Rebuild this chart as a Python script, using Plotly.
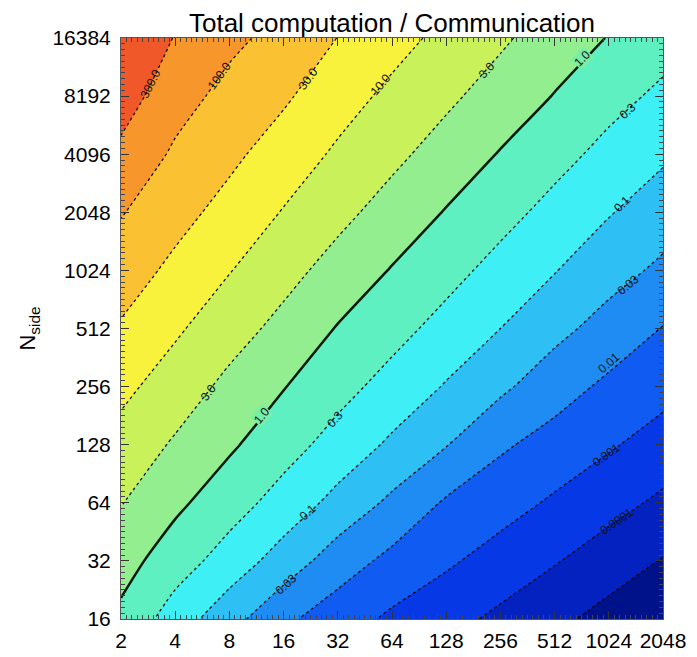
import numpy as np
import plotly.graph_objects as go

# ---------------- data ----------------
x_ticks = [2, 4, 8, 16, 32, 64, 128, 256, 512, 1024, 2048]
y_ticks = [16, 32, 64, 128, 256, 512, 1024, 2048, 4096, 8192, 16384]

# log10(total computation / communication); rows: N_side = 16 ... 16384, cols: x = 2 ... 2048
log_ratio = [
    [-0.12, -0.75, -1.33, -1.90, -2.54, -3.18, -3.67, -4.21, -4.77, -5.34, -5.90],
    [0.19, -0.28, -0.73, -1.23, -1.76, -2.27, -2.85, -3.40, -3.93, -4.49, -5.06],
    [0.50, 0.10, -0.30, -0.71, -1.16, -1.62, -2.12, -2.61, -3.14, -3.66, -4.19],
    [0.81, 0.42, 0.07, -0.32, -0.70, -1.09, -1.50, -1.93, -2.38, -2.89, -3.41],
    [1.12, 0.75, 0.36, 0.02, -0.35, -0.69, -1.04, -1.42, -1.80, -2.20, -2.68],
    [1.43, 1.07, 0.69, 0.34, -0.03, -0.35, -0.68, -1.00, -1.37, -1.71, -2.04],
    [1.73, 1.37, 1.02, 0.65, 0.30, -0.03, -0.35, -0.68, -0.98, -1.32, -1.62],
    [2.03, 1.65, 1.32, 0.97, 0.62, 0.29, -0.03, -0.35, -0.67, -0.97, -1.26],
    [2.37, 1.92, 1.59, 1.26, 0.92, 0.60, 0.28, -0.03, -0.35, -0.66, -0.93],
    [2.70, 2.19, 1.84, 1.55, 1.20, 0.88, 0.58, 0.27, -0.02, -0.35, -0.62],
    [3.01, 2.45, 2.11, 1.83, 1.47, 1.17, 0.86, 0.56, 0.24, -0.02, -0.31],
]

levels = [1e-5, 1e-4, 1e-3, 0.01, 0.03, 0.1, 0.3, 1.0, 3.0, 10.0, 30.0, 100.0, 300.0]
level_labels = ["", "0.0001", "0.001", "0.01", "0.03", "0.1", "0.3", "1.0", "3.0", "10.0", "30.0", "100.0", "300.0"]

band_colors = ["#00128A", "#0322C0", "#0638E6", "#105CF2", "#1E8CF2", "#2EC0F5", "#3EEFF5",
               "#5EF0C0", "#92EE8E", "#C8F15A", "#F9F23C", "#FAC232", "#F7962A", "#F0582A"]

# label placement guides: (level text, 'row' -> along N_side exponent / 'col' -> along x exponent, guide value)
label_guides = [
    ("300.0", "row", 13.2), ("100.0", "row", 13.35), ("30.0", "row", 13.3), ("10.0", "row", 13.2),
    ("3.0", "row", 13.45), ("1.0", "row", 13.65),
    ("0.3", "col", 10.35), ("0.1", "col", 10.25), ("0.03", "col", 10.35), ("0.01", "col", 10.0),
    ("0.001", "col", 9.95), ("0.0001", "col", 10.15),
    ("3.0", "row", 7.9), ("1.0", "row", 7.5), ("0.3", "row", 7.45),
    ("0.1", "col", 4.45), ("0.03", "col", 4.05),
]

# ---------------- layout geometry ----------------
# the page body adds an 8 px offset, so the figure is 8 px smaller than the window
OFF = 8
W, H = 697 - OFF, 657 - OFF
ML, MR, MT, MB = 121 - OFF, 34, 38 - OFF, 38
FONT = "Liberation Sans, Arial, Helvetica, sans-serif"

xe = np.log2(x_ticks)
ye = np.log2(y_ticks)
A = np.array(log_ratio, float)
lv = np.log10(levels)


def to_index(L):
    L = np.asarray(L, float)
    idx = np.interp(L, lv, np.arange(len(lv)))
    lo = L < lv[0]
    hi = L > lv[-1]
    idx[lo] = (L[lo] - lv[0]) / (lv[1] - lv[0])
    idx[hi] = len(lv) - 1 + (L[hi] - lv[-1]) / (lv[-1] - lv[-2])
    return idx


Z = to_index(A)
nlev = len(levels)
one_idx = level_labels.index("1.0")

# colorscale: band k (k=0 below first level ... k=nlev above last) at position k/nlev
colorscale = [[k / nlev, c] for k, c in enumerate(band_colors)]


def bilin(u, v):
    u = np.atleast_1d(np.asarray(u, float))
    v = np.atleast_1d(np.asarray(v, float))
    fu = (u - xe[0]) / (xe[1] - xe[0])
    fv = (v - ye[0]) / (ye[1] - ye[0])
    i = np.clip(np.floor(fu).astype(int), 0, len(xe) - 2)
    j = np.clip(np.floor(fv).astype(int), 0, len(ye) - 2)
    tu = fu - i
    tv = fv - j
    return (A[j, i] * (1 - tu) * (1 - tv) + A[j, i + 1] * tu * (1 - tv)
            + A[j + 1, i] * (1 - tu) * tv + A[j + 1, i + 1] * tu * tv)


def mix(c1, c2):
    a = [int(c1[k:k + 2], 16) for k in (1, 3, 5)]
    b = [int(c2[k:k + 2], 16) for k in (1, 3, 5)]
    return "#" + "".join(f"{(p + q) // 2:02X}" for p, q in zip(a, b))


sx = (W - ML - MR) / (xe[-1] - xe[0])
sy = (H - MT - MB) / (ye[-1] - ye[0])

annotations = []
for text, kind, g in label_guides:
    k = level_labels.index(text)
    L0 = lv[k]
    if kind == "row":
        us = np.linspace(xe[0], xe[-1], 2001)
        prof = bilin(us, np.full_like(us, g))
        if not (prof.min() <= L0 <= prof.max()):
            continue
        u0 = float(np.interp(L0, prof[::-1], us[::-1]))
        v0 = g
    else:
        vs = np.linspace(ye[0], ye[-1], 2001)
        prof = bilin(np.full_like(vs, g), vs)
        if not (prof.min() <= L0 <= prof.max()):
            continue
        v0 = float(np.interp(L0, prof, vs))
        u0 = g
    e = 1e-3
    dLdu = (bilin(u0 + e, v0) - bilin(u0 - e, v0))[0] / (2 * e)
    dLdv = (bilin(u0, v0 + e) - bilin(u0, v0 - e))[0] / (2 * e)
    dx = dLdv * sx
    dy = dLdu * sy  # screen y (down) of tangent (dLdv, -dLdu)
    ang = np.degrees(np.arctan2(dy, dx))
    if ang > 90:
        ang -= 180
    if ang < -90:
        ang += 180
    ann = dict(x=u0, y=v0, xref="x", yref="y", text=text, showarrow=False,
               textangle=float(ang), font=dict(family=FONT, size=12, color="#111"))
    if k == one_idx:
        # the solid line is broken under its label
        ann.update(bgcolor=mix(band_colors[k], band_colors[k + 1]), borderpad=0)
    annotations.append(ann)

fig = go.Figure()
fig.add_trace(go.Contour(
    x=xe, y=ye, z=Z, autocontour=False,
    contours=dict(start=0, end=nlev - 1, size=1, coloring="fill", showlines=True),
    colorscale=colorscale, showscale=False,
    line=dict(color="black", width=1.2, dash="dot", smoothing=0.6),
    hoverinfo="skip",
))
fig.add_trace(go.Contour(
    x=xe, y=ye, z=Z, autocontour=False,
    contours=dict(start=one_idx, end=one_idx, size=1, coloring="none", showlines=True),
    showscale=False,
    line=dict(color="#0a1a0a", width=2.5, smoothing=0.6),
    hoverinfo="skip",
))

axis_common = dict(showgrid=False, zeroline=False, showline=True, mirror="allticks", automargin=False,
                   linecolor="#555", linewidth=1, ticks="inside", ticklen=8, tickcolor="#333",
                   minor=dict(ticks="inside", ticklen=4, dtick=0.1, tickcolor="#444", showgrid=False),
                   tickfont=dict(family=FONT, size=21, color="black"))

fig.update_xaxes(range=[xe[0], xe[-1]], tickmode="array", tickvals=xe,
                 ticktext=[str(t) for t in x_ticks], ticklabelstandoff=3, **axis_common)
fig.update_yaxes(range=[ye[0], ye[-1]], tickmode="array", tickvals=ye,
                 ticktext=[str(t) for t in y_ticks], ticklabelstandoff=5,
                 title=dict(text="N<sub>side</sub>", font=dict(family=FONT, size=22, color="black"),
                            standoff=10), **axis_common)

fig.update_layout(
    width=W, height=H,
    margin=dict(l=ML, r=MR, t=MT, b=MB, pad=0, autoexpand=False),
    paper_bgcolor="white", plot_bgcolor="white",
    title=dict(text="Total computation / Communication", x=(ML + (W - ML - MR) / 2) / W, xanchor="center",
               y=1 - 15 / H, yanchor="middle", font=dict(family=FONT, size=26, color="black")),
    annotations=annotations,
    showlegend=False,
)

fig.write_html("out.html")
